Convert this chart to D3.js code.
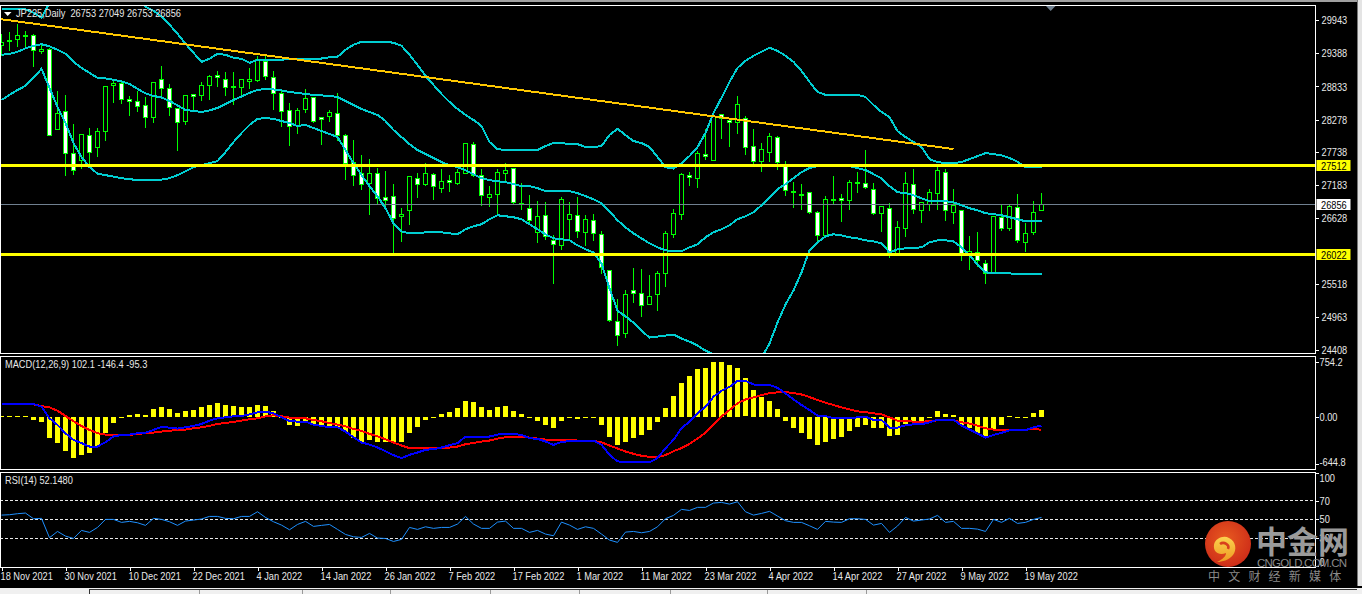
<!DOCTYPE html>
<html><head><meta charset="utf-8">
<script src="https://cdn.jsdelivr.net/npm/d3@7"></script>
<style>
html,body{margin:0;padding:0;background:#000;overflow:hidden}
svg{display:block}
text{font-family:"Liberation Sans",sans-serif;font-size:11px;fill:#e8e8e8}
</style></head><body>
<svg id="c" width="1362" height="594"></svg>
<script>
const opens=[29527,29606,29618,29690,29685,29426,29460,28104,28417,27711,
27588,28004,27802,28071,28844,28878,28609,28585,28508,28306,
28945,28794,28458,28249,28693,28681,28855,29013,28945,28833,
28821,28912,28934,29258,28989,28710,28424,28182,28446,28648,
28311,28333,28374,28009,27560,27381,27206,27381,26978,26994,
26651,26759,27297,27190,27358,27122,27264,27206,27381,27852,
27348,26971,27021,27375,27449,26877,26793,26382,26675,26255,
26164,26601,26675,26382,26591,26355,25750,24892,24684,25414,
25363,25171,25340,25693,26349,26685,27336,27290,27689,27593,
28367,28261,28222,28294,27818,27576,27728,27970,27521,27079,
27028,27062,26725,26339,26932,26961,26921,27230,27206,27112,
26702,26793,26029,26450,27190,26752,26853,27038,27398,26719,
26759,25990,26046,25868,25709,26641,26453,26803,26221,26389,26753];
const closes=[29573,29584,29685,29679,29438,29460,28004,28384,27701,27432,
28020,27734,28071,28838,28888,28609,28585,28496,28306,28895,
28794,28474,28222,28676,28670,28844,28996,28989,28811,28821,
28945,28945,29282,29001,28710,28417,28160,28424,28631,28249,
28283,28395,28004,27533,27348,27196,27381,26954,26927,26618,
26692,27331,27190,27381,27156,27247,27223,27398,27869,27348,
27011,27028,27398,27432,26887,26853,26584,26658,26310,26180,
26944,26692,26399,26608,26372,25805,24909,24657,25346,25357,
25161,25313,25699,26372,26709,27364,27307,27701,27660,28328,
28289,28222,28525,27802,27576,27768,27987,27560,27095,27055,
27005,26719,26339,26944,26921,26927,27230,27206,27146,26702,
26826,26053,26466,27213,26769,26893,27062,27420,26759,26836,
26029,26063,25906,25699,26658,26456,26826,26251,26365,26725,26856];
const highs=[29724,29763,29897,29774,29724,29539,29494,28765,28698,28205,
28020,28148,28148,28838,28934,28934,28681,28765,28664,28917,
29186,28878,28458,28693,28710,28917,29034,29102,29085,29085,
28945,29157,29354,29383,29102,28799,28569,28479,28799,28664,
28328,28441,28732,28047,27941,27689,27622,27475,27420,27201,
26798,27336,27398,27566,27398,27454,27353,27465,27869,27903,
27454,27168,27454,27555,27465,27223,27016,26915,26899,26344,
26983,26899,26994,26680,26709,26423,25750,25279,25435,25805,
25783,25671,25750,26411,26793,27391,27403,27756,28121,28384,
28367,28306,28681,28345,28126,27891,28059,28004,27588,27235,
27201,27062,26759,26999,27336,27033,27280,27403,27768,27230,
26826,26893,26591,27403,27465,26893,27117,27504,27465,27129,
26759,26327,26394,25923,26658,26865,26860,27045,26551,26927,27049];
const lows=[29354,29438,29505,29467,29174,29393,28004,28104,27348,27364,
27465,27533,27660,27925,28569,28552,28345,28417,28148,28222,
28686,28345,27756,28194,28429,28597,28619,28833,28681,28530,
28653,28799,28922,28955,28451,28160,27840,28047,28400,28232,
27857,28244,27925,27269,27168,27100,26680,26848,26803,26024,
26231,26512,26971,27168,26932,27050,27067,27184,27381,27319,
26843,26814,26680,27252,26848,26764,26512,26214,26260,25525,
26096,26243,26298,26159,26243,25693,24886,24482,24628,25217,
24981,25171,25082,25474,26298,26596,27168,27139,27605,27593,
27963,27829,28047,27694,27543,27408,27571,27442,26999,26803,
26769,26702,26243,26298,26848,26567,26764,27055,27122,26680,
26394,25962,26024,26315,26702,26550,26747,26776,26579,26529,
25906,25755,25811,25525,25709,26411,26411,26214,26063,26355,26753];
const bbUpper=[30119,30119,30119,30119,30060,29976,30229,30380,30498,30582,30632,30649,30666,30649,30615,30582,30481,30313,30161,30094,
29993,29859,29707,29539,29388,29236,29287,29371,29354,29304,29287,29219,29270,29270,29270,29270,29287,29287,29292,29292,
29292,29312,29320,29438,29522,29573,29573,29573,29573,29556,29505,29354,29186,29001,28849,28698,28564,28446,28345,28261,
28160,27891,27773,27756,27756,27756,27756,27756,27824,27874,27874,27857,27857,27807,27807,27824,28009,28110,28009,27908,
27874,27807,27639,27470,27445,27538,27655,27807,28042,28379,28631,28900,29135,29253,29337,29404,29472,29421,29337,29236,
29085,28900,28732,28681,28673,28681,28681,28681,28648,28513,28395,28311,28076,27975,27891,27807,27605,27555,27538,27538,
27555,27605,27655,27706,27689,27667,27622,27563,27465,27465,27465];
const bbMiddle=[29354,29371,29404,29463,29505,29531,29497,29438,29371,29236,29135,29051,28967,28959,28934,28908,28866,28782,28707,28664,
28639,28580,28505,28429,28412,28395,28421,28463,28530,28597,28656,28715,28765,28782,28774,28757,28732,28715,28698,28681,
28673,28664,28648,28580,28513,28446,28395,28345,28244,28093,27975,27857,27756,27689,27622,27555,27504,27470,27420,27353,
27285,27252,27235,27218,27185,27151,27151,27117,27067,27067,27067,27067,27033,26983,26932,26865,26730,26579,26461,26360,
26276,26192,26125,26075,26058,26058,26125,26175,26293,26377,26428,26495,26596,26646,26714,26831,26966,27100,27185,27285,
27386,27454,27487,27504,27504,27504,27487,27454,27420,27353,27285,27151,27050,27033,26999,26949,26899,26899,26899,26882,
26831,26781,26747,26697,26680,26663,26630,26596,26562,26562,26562];
const bbLower=[28597,28681,28765,28833,28967,29119,28799,28479,28210,27874,27639,27470,27361,27336,27311,27285,27269,27252,27252,27252,
27260,27285,27336,27403,27470,27504,27538,27571,27723,27891,28042,28177,28278,28294,28278,28244,28210,28160,28177,28126,
28076,28025,27975,27756,27538,27336,27151,26983,26781,26529,26394,26360,26360,26377,26377,26377,26360,26344,26428,26478,
26512,26596,26663,26646,26630,26596,26512,26428,26344,26276,26260,26243,26159,26091,26041,25856,25435,25065,24965,24864,
24729,24611,24628,24645,24662,24595,24544,24477,24393,24326,24141,24023,23956,23989,24123,24275,24510,24864,25166,25402,
25705,26075,26209,26310,26344,26327,26293,26276,26243,26226,26192,26041,26091,26108,26116,26125,26209,26243,26243,26226,
26125,25990,25839,25705,25696,25688,25688,25679,25671,25671,25671];
const macdHist=[18,14,14,14,-36,-68,-282,-350,-473,-569,-519,-487,-396,-214,-82,-14,23,41,23,109,
141,109,59,82,96,141,168,196,168,150,141,141,168,150,82,-5,-109,-123,-86,-100,
-132,-141,-155,-200,-291,-337,-314,-341,-337,-341,-341,-218,-137,-41,-9,36,68,118,218,200,
132,96,137,150,82,41,-9,-55,-109,-150,-55,-14,-32,-9,-18,-109,-278,-382,-341,-282,
-246,-177,-68,118,287,469,560,655,669,751,751,710,678,528,369,278,218,109,-50,-146,
-214,-300,-382,-337,-300,-273,-191,-137,-109,-146,-146,-259,-246,-96,-50,-50,-9,82,41,27,
-109,-155,-223,-278,-177,-109,14,-9,-5,59,102];
const macdBlue=[177,177,177,177,177,141,-18,-109,-223,-314,-359,-405,-405,-346,-268,-246,-241,-223,-214,-177,
-137,-146,-159,-141,-123,-96,-50,-18,-5,9,14,36,64,73,50,-5,-55,-64,-64,-105,
-123,-141,-141,-200,-278,-350,-378,-419,-469,-523,-564,-519,-487,-450,-441,-419,-387,-359,-268,-268,
-268,-268,-241,-228,-232,-246,-291,-300,-337,-382,-341,-332,-332,-332,-323,-382,-519,-610,-614,-623,
-623,-623,-564,-428,-314,-155,-64,50,141,278,359,414,496,496,446,441,441,400,323,241,
164,96,18,14,-18,-18,-18,-5,5,-41,-41,-146,-146,-114,-100,-100,-73,-36,-36,-36,
-118,-173,-228,-282,-246,-218,-182,-182,-182,-141,-118];
const macdRed=[173,173,173,173,173,150,132,86,14,-59,-123,-177,-223,-241,-246,-246,-246,-232,-223,-214,
-200,-187,-182,-173,-155,-141,-123,-96,-82,-68,-50,-32,-18,9,23,9,-9,-14,-18,-41,
-59,-82,-105,-127,-164,-191,-232,-264,-305,-350,-391,-428,-432,-432,-432,-428,-419,-405,-373,-355,
-337,-323,-296,-278,-273,-273,-282,-296,-309,-314,-314,-319,-323,-323,-328,-346,-391,-432,-473,-505,
-532,-546,-551,-523,-469,-428,-369,-296,-214,-109,5,96,187,241,268,300,328,337,341,328,
309,273,232,196,164,132,105,77,68,50,36,-5,-50,-55,-64,-64,-59,-45,-41,-45,
-73,-91,-118,-155,-173,-173,-173,-173,-173,-168,-173];
const rsiValues=[54.6,55,56.1,56.8,50.7,51.1,30.4,37.1,32.1,29.6,38.2,36.1,41.4,50,50,46.8,47.9,46.4,43.6,51.1,
50,47.5,43.6,48.2,49.3,50.4,53.2,53.2,51.1,50.7,53.2,53.2,58.2,52.1,47.5,43.9,38.9,44.6,47.9,42.5,
43.6,44.6,39.3,33.9,31.4,30.7,35,30,29.6,26.4,28.6,41.4,39.3,42.1,40.4,41.4,41.4,45,53.2,45,
40.4,40.4,47.1,48.2,40.4,40.4,36.1,38.2,34.3,32.5,47.1,43.9,39.3,42.1,40.4,34.3,27.9,25.4,36.4,37.1,
35.7,37.1,42.1,50.7,54.3,60.7,59.6,62.9,62.9,67.5,68.2,66.4,68.9,58.2,54.6,56.4,58.6,53.6,48.6,46.8,
46.8,43.2,39.3,47.9,47.1,46.8,50.7,50.7,50,43.9,45.7,36.1,42.9,52.1,48.2,49.3,50.4,54.3,46.8,47.9,
40.4,40.4,39.6,37.1,50,46.8,51.1,45.7,46.8,50,52.1];
const trendIndex=[-0.19,119];
const trendPrice=[29954,27773];
const hLevels=[27512,26022];
const lastPrice=26856;
const priceTicks=[29943,29388,28833,28278,27738,27183,26628,25518,24963,24408];
const macdTicks=[754.2,0,-644.8];
const macdTickLabels=["754.2","0.00","-644.8"];
const rsiTicks=[100,70,50,30,0];
const rsiLevels=[70,50,30];
const dateIndex=[0,8,16,24,32,40,48,56,64,72,80,88,96,104,112,120,128];
const dateLabels=["18 Nov 2021","30 Nov 2021","10 Dec 2021","22 Dec 2021","4 Jan 2022","14 Jan 2022","26 Jan 2022","7 Feb 2022","17 Feb 2022","1 Mar 2022","11 Mar 2022","23 Mar 2022","4 Apr 2022","14 Apr 2022","27 Apr 2022","9 May 2022","19 May 2022"];

const svg=d3.select("#c");
const R=1315.5;
const x=d3.scaleLinear().domain([0,130]).range([1.5,1041.5]);
const y=d3.scaleLinear().domain([29943,24408]).range([20.3,350.3]);
const yM=d3.scaleLinear().domain([754.2,-644.8]).range([362,464]);
const yR=d3.scaleLinear().domain([0,100]).range([566.1,472.7]);
const defs=svg.append("defs");
[["p1",1,6,R-1,347.5],["p2",1,356.5,R-1,113],["p3",1,473,R-1,94]].forEach(c=>defs.append("clipPath").attr("id",c[0]).append("rect").attr("x",c[1]).attr("y",c[2]).attr("width",c[3]).attr("height",c[4]));

// window chrome
svg.append("rect").attr("width",1362).attr("height",594).attr("fill","#000");
svg.append("rect").attr("width",1362).attr("height",2).attr("fill","#a0a0a0");
svg.append("rect").attr("x",1357).attr("width",5).attr("height",594).attr("fill","#e4e4e4");
svg.append("rect").attr("x",1357).attr("width",1).attr("height",588).attr("fill","#777");
svg.append("rect").attr("y",588).attr("width",1362).attr("height",6).attr("fill","#f0f0f0");
svg.append("rect").attr("y",586).attr("width",1362).attr("height",2).attr("fill","#000");
svg.append("rect").attr("x",89).attr("y",589).attr("width",1268).attr("height",1).attr("fill","#333");
svg.append("rect").attr("x",89).attr("y",589).attr("width",1).attr("height",5).attr("fill","#333");
[199,302,390,490,579,670,767,866].forEach(v=>svg.append("rect").attr("x",v).attr("y",590).attr("width",1).attr("height",4).attr("fill","#999"));

// main pane
const g1=svg.append("g").attr("clip-path","url(#p1)");
const wy=v=>Math.floor(y(v))+.5;
const idx=d3.range(opens.length);
g1.append("g").selectAll("line").data(idx).join("line").attr("x1",x).attr("x2",x)
 .attr("y1",i=>wy(highs[i])).attr("y2",i=>wy(lows[i])).attr("stroke","#00ff00").attr("shape-rendering","crispEdges");
g1.append("g").selectAll("rect").data(idx).join("rect")
 .attr("x",i=>x(i)-2).attr("width",4)
 .attr("y",i=>wy(Math.max(opens[i],closes[i])))
 .attr("height",i=>Math.max(1,wy(Math.min(opens[i],closes[i]))-wy(Math.max(opens[i],closes[i]))))
 .attr("fill",i=>{const t=wy(Math.max(opens[i],closes[i])),b=wy(Math.min(opens[i],closes[i]));
   if(b-t<2) return "#00ff00"; return closes[i]<opens[i]?"#fff":"#000";})
 .attr("stroke","#00ff00").attr("shape-rendering","crispEdges");
g1.append("line").attr("x1",0).attr("x2",R).attr("y1",y(lastPrice)).attr("y2",y(lastPrice)).attr("stroke","#708090").attr("shape-rendering","crispEdges");
const line=(sc,arr)=>d3.line().x((d,i)=>x(i)).y(d=>sc(d))(arr);
const bands=g1.append("g").attr("transform","translate(0,-0.6)");
[bbUpper,bbMiddle,bbLower].forEach(a=>bands.append("path").attr("d",line(y,a)).attr("fill","none").attr("stroke","#00ced1").attr("stroke-width",2).attr("shape-rendering","crispEdges"));
g1.append("line").attr("x1",x(trendIndex[0])).attr("x2",x(trendIndex[1])).attr("y1",y(trendPrice[0])-.6).attr("y2",y(trendPrice[1])-.6).attr("stroke","#ffc800").attr("stroke-width",2).attr("shape-rendering","crispEdges");
hLevels.forEach(v=>g1.append("line").attr("x1",0).attr("x2",R).attr("y1",Math.round(y(v))+.5).attr("y2",Math.round(y(v))+.5).attr("stroke","#ffff00").attr("stroke-width",3).attr("shape-rendering","crispEdges"));

// macd pane
const g2=svg.append("g").attr("clip-path","url(#p2)");
g2.append("g").selectAll("rect").data(macdHist).join("rect")
 .attr("x",(d,i)=>x(i)-2.5).attr("width",5)
 .attr("y",d=>Math.round(Math.min(yM(d),yM(0))))
 .attr("height",d=>Math.max(1,Math.round(Math.abs(yM(d)-yM(0)))))
 .attr("fill","#ffff00").attr("shape-rendering","crispEdges");
g2.append("path").attr("d",line(yM,macdRed)).attr("fill","none").attr("stroke","#ff0000").attr("stroke-width",2).attr("shape-rendering","crispEdges");
g2.append("path").attr("d",line(yM,macdBlue)).attr("fill","none").attr("stroke","#0000ff").attr("stroke-width",2).attr("shape-rendering","crispEdges");

// rsi pane
const g3=svg.append("g").attr("clip-path","url(#p3)");
rsiLevels.forEach(v=>g3.append("line").attr("x1",0).attr("x2",R).attr("y1",Math.floor(yR(v))+.5).attr("y2",Math.floor(yR(v))+.5).attr("stroke","#e8e8e8").attr("stroke-dasharray","3,2").attr("shape-rendering","crispEdges"));
g3.append("path").attr("d",line(yR,rsiValues)).attr("fill","none").attr("stroke","#1e90ff").attr("stroke-width",1);

// pane frames
[[5.5,353.5],[356.5,469.5],[472.5,567.5]].forEach(f=>svg.append("rect").attr("x",0.5).attr("y",f[0]).attr("width",R-0.5).attr("height",f[1]-f[0]).attr("fill","none").attr("stroke","#fff").attr("shape-rendering","crispEdges"));

// axes
function styleAxis(g){g.select(".domain").remove();g.selectAll("line").attr("stroke","#fff").attr("shape-rendering","crispEdges");g.selectAll("text").attr("fill","#e8e8e8");}
const axP=svg.append("g").attr("transform",`translate(${R},0)`).call(d3.axisRight(y).tickValues(priceTicks).tickFormat(d3.format("d")).tickSize(3).tickPadding(3));
axP.call(styleAxis);
const axM=svg.append("g").attr("transform",`translate(${R},0)`).call(d3.axisRight(yM).tickValues(macdTicks).tickFormat((d,i)=>macdTickLabels[i]).tickSize(3).tickPadding(1));
axM.call(styleAxis);
axM.selectAll("text").attr("dy",(d,i)=>i==2?"0.1em":"0.32em");
const axR=svg.append("g").attr("transform",`translate(${R},0)`).call(d3.axisRight(yR).tickValues(rsiTicks).tickSize(3).tickPadding(1));
axR.call(styleAxis);
axR.selectAll("text").attr("y",d=>d==100?5:(d==0?-4:0));
const axD=svg.append("g").attr("transform","translate(0,567.5)").call(d3.axisBottom(x).tickValues(dateIndex).tickFormat((d,i)=>dateLabels[i]).tickSize(3).tickPadding(2));
axD.call(styleAxis);
axD.selectAll("text").attr("text-anchor","start").attr("dx",-1.5).attr("fill","#e8e8e8");

// price boxes
function priceBox(v,bg){
  const yy=Math.round(y(v));
  svg.append("rect").attr("x",R+1).attr("y",yy-5).attr("width",34).attr("height",11).attr("fill",bg);
  svg.append("text").attr("x",R+5.5).attr("y",yy+4.5).text(v).style("fill","#000");
}
hLevels.forEach(v=>priceBox(v,"#ffff00"));
priceBox(lastPrice,"#ffffff");

// labels
svg.append("path").attr("d","M4,12 L11.5,12 L7.7,16 Z").attr("fill","#fff");
svg.append("path").attr("d","M1046,6 L1055.5,6 L1050.7,11 Z").attr("fill","#708090");
svg.append("text").attr("x",16).attr("y",17).text("JP225,Daily  26753 27049 26753 26856").attr("xml:space","preserve");
svg.append("text").attr("x",5).attr("y",368).text("MACD(12,26,9) 102.1 -146.4 -95.3");
svg.append("text").attr("x",5).attr("y",484).text("RSI(14) 52.1480");

// the terminal's narrow UI font: condense Liberation Sans to the same advance widths
svg.selectAll("text").each(function(){
  const w=this.getComputedTextLength();
  d3.select(this).attr("textLength",w*0.84).attr("lengthAdjust","spacingAndGlyphs");
});

// watermark
const grad=defs.append("radialGradient").attr("id","lg").attr("cx","45%").attr("cy","40%").attr("r","65%");
grad.append("stop").attr("offset","0%").attr("stop-color","#e85a20");
grad.append("stop").attr("offset","100%").attr("stop-color","#cc2a18");
const swirl=defs.append("linearGradient").attr("id","sw").attr("x1","0").attr("y1","0").attr("x2","0").attr("y2","1");
swirl.append("stop").attr("offset","0%").attr("stop-color","#fbd24e");
swirl.append("stop").attr("offset","100%").attr("stop-color","#ee9a22");
svg.append("circle").attr("cx",1228).attr("cy",544).attr("r",23).attr("fill","url(#lg)");
svg.append("path").attr("d","M1214,545 C1215,538 1224,535 1229,538 C1236,541 1237,550 1233,555 C1229,560 1222,562 1217,562 C1223,559 1226,556 1226,553 C1219,556 1213,552 1214,545 Z").attr("fill","url(#sw)");
svg.append("path").attr("d","M1220,544 C1224,541 1230,545 1228,549").attr("fill","none").attr("stroke","#d8401c").attr("stroke-width",2.5);
const cn='"Noto Sans CJK SC",sans-serif';
svg.append("text").attr("x",1256).attr("y",553).text("中金网").style("font-family",cn).style("font-weight",700).style("font-size","31px").style("fill","#9a9a9a");
svg.append("text").attr("x",1257).attr("y",567).text("CNGOLD.COM.CN").style("font-family",'"Liberation Sans",sans-serif').style("font-size","11.5px").style("fill","#8a8a8a").attr("textLength",90);
svg.append("text").attr("x",1208).attr("y",581).text("中文财经新媒体").style("font-family",cn).style("font-size","12px").style("fill","#8a8a8a").style("letter-spacing","8.2px");
</script>
</body></html>
